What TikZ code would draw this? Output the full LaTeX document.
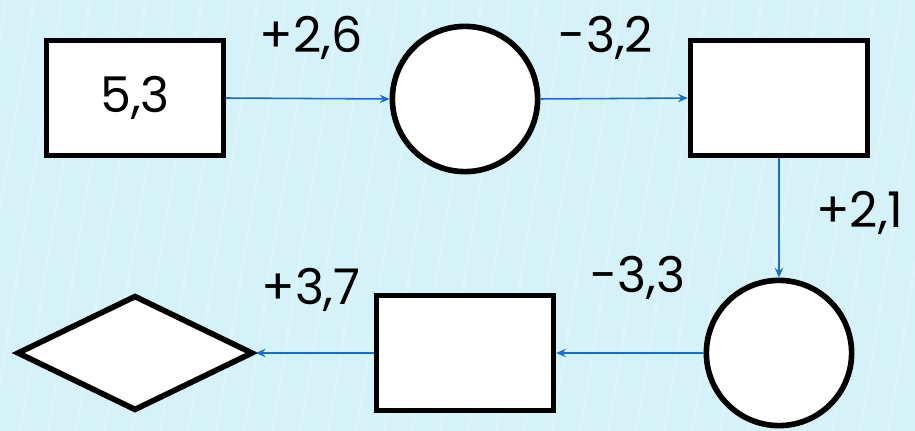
\documentclass[tikz,border=0pt]{standalone}
\usepackage{fontspec}
\setmainfont{Poppins}
\usetikzlibrary{shapes.geometric,arrows.meta}

\definecolor{bgcyan}{RGB}{212,242,248}
\definecolor{stripe}{RGB}{230,248,252}
\definecolor{flowblue}{RGB}{24,110,200}

\begin{document}
\begin{tikzpicture}[
    x=0.025cm, y=-0.025cm,
    shapebox/.style={
        draw, fill=white, line width=4pt,
        minimum width=4.42cm, minimum height=2.88cm,
        inner sep=0pt, font=\fontsize{35}{40}\selectfont
    },
    roundbox/.style={
        circle, draw, fill=white, line width=4pt,
        minimum size=3.63cm, inner sep=0pt
    },
    choicebox/.style={
        diamond, draw, fill=white, line width=4pt,
        minimum width=5.9cm, minimum height=2.88cm, inner sep=0pt
    },
    flow/.style={->, >={Stealth[length=7pt,width=6pt,inset=2.5pt]},
        draw=flowblue, line width=1.1pt},
    steplabel/.style={font=\fontsize{35}{40}\selectfont}
]

% Background
\useasboundingbox (0,0) rectangle (915,431);
\begin{scope}
    \clip (0,0) rectangle (915,431);
    \fill[bgcyan] (0,0) rectangle (915,431);
    \foreach \xs in {-120,-92,...,900}
        \draw[stripe, line width=2pt, opacity=0.45] (\xs,431) -- (\xs+70,0);
\end{scope}

% Top row
\node[shapebox] (start) at (135,98) {5,3};
\node[roundbox] (opA) at (465,99) {};
\node[shapebox] (midA) at (779,98) {};

% Bottom row
\node[roundbox] (opB) at (779,353) {};
\node[shapebox] (midB) at (465,353) {};
\node[choicebox] (finish) at (135,353) {};

% Connectors
\draw[flow] (start.east) -- (opA.west);
\draw[flow] (opA.east) -- (midA.west);
\draw[flow] (midA.south) -- (opB.north);
\draw[flow] (opB.west) -- (midB.east);
\draw[flow] (midB.west) -- (finish.east);

% Step labels
\node[steplabel] (lblA) at (311,38) {+2,6};
\node[steplabel] (lblB) at (606,38) {-3,2};
\node[steplabel] (lblC) at (860,213) {+2,1};
\node[steplabel] (lblD) at (638,278) {-3,3};
\node[steplabel] (lblE) at (311,290) {+3,7};

\end{tikzpicture}
\end{document}
